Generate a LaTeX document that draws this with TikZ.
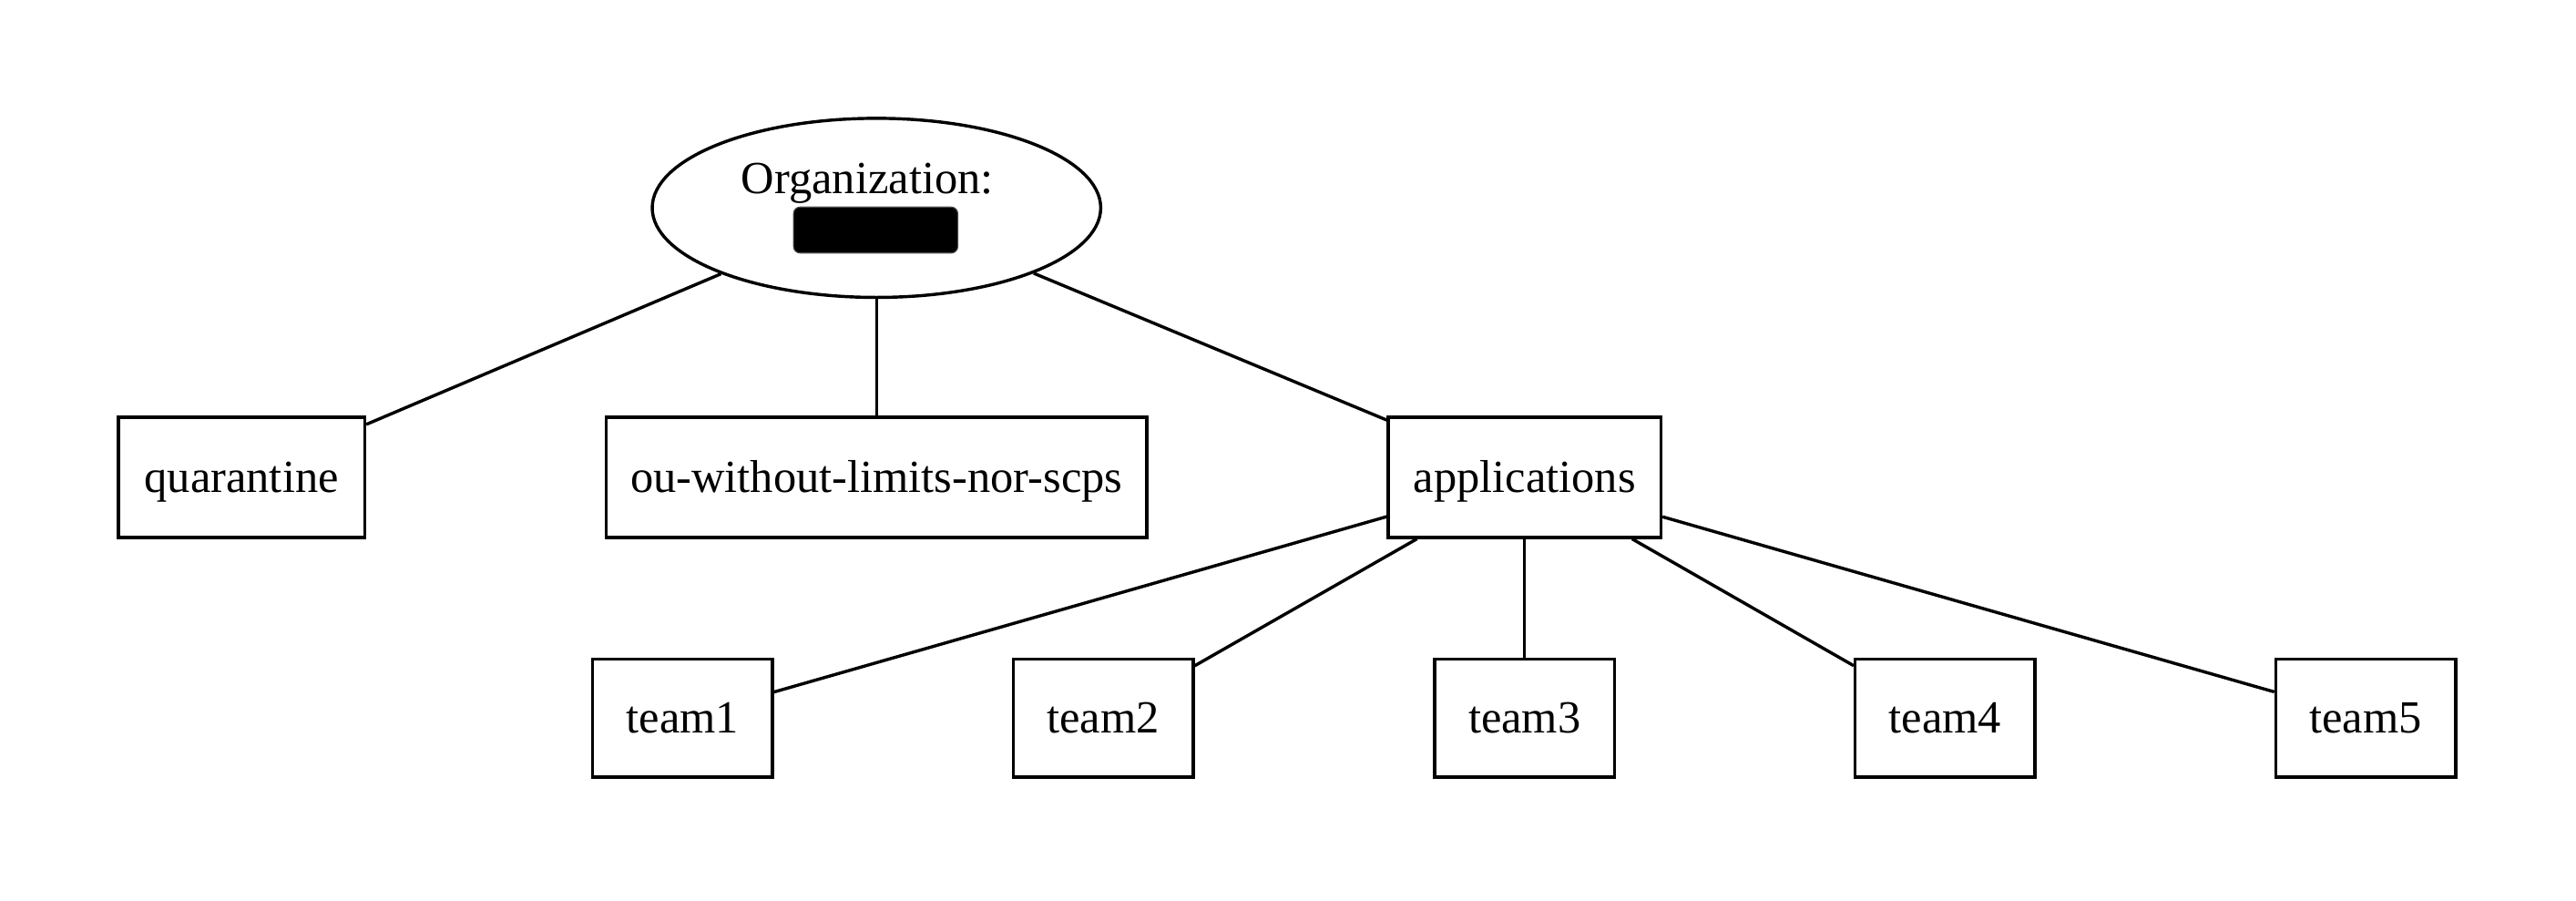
\documentclass[tikz,border=0pt]{standalone}
\usepackage{fontspec}
\setmainfont{Liberation Serif}
\usetikzlibrary{shapes.geometric}
\begin{document}
\begin{tikzpicture}[x=0.5pt,y=-0.5pt,
  every node/.style={font=\fontsize{14}{16}\selectfont},
  ou/.style={draw, line width=0.95pt, rectangle, inner sep=0pt, minimum height=36.5pt, text depth=0pt, text height=9pt},
  team/.style={draw, line width=0.95pt, rectangle, inner sep=0pt, minimum width=54.75pt, minimum height=36pt, text depth=0pt, text height=9pt},
  edge/.style={draw, line width=0.95pt}]
\useasboundingbox (0,0) rectangle (1568,548);
\node[draw, line width=0.95pt, ellipse, inner sep=0pt, minimum width=136.5pt, minimum height=54.5pt] (org) at (533.5,126.5) {};
\node[anchor=base, inner sep=0pt] (orgtext) at (528,118) {Organization:};
\node[fill=black, draw=black!70, line width=0.3pt, rounded corners=2pt, inner sep=0pt, minimum width=50pt, minimum height=14pt] (redact) at (533,140) {};
\node[ou, minimum width=75pt] (quar) at (147,290.5) {quarantine};
\node[ou, minimum width=164.5pt] (ouw) at (533.5,290.5) {ou-without-limits-nor-scps};
\node[ou, minimum width=83pt] (apps) at (928,290.5) {applications};
\node[team] (t1) at (415.5,437) {team1};
\node[team] (t2) at (671.5,437) {team2};
\node[team] (t3) at (928,437) {team3};
\node[team] (t4) at (1184,437) {team4};
\node[team] (t5) at (1440,437) {team5};
\path[edge] (org) -- (quar);
\path[edge] (org) -- (ouw);
\path[edge] (org) -- (apps);
\path[edge] (apps) -- (t1);
\path[edge] (apps) -- (t2);
\path[edge] (apps) -- (t3);
\path[edge] (apps) -- (t4);
\path[edge] (apps) -- (t5);
\end{tikzpicture}
\end{document}
